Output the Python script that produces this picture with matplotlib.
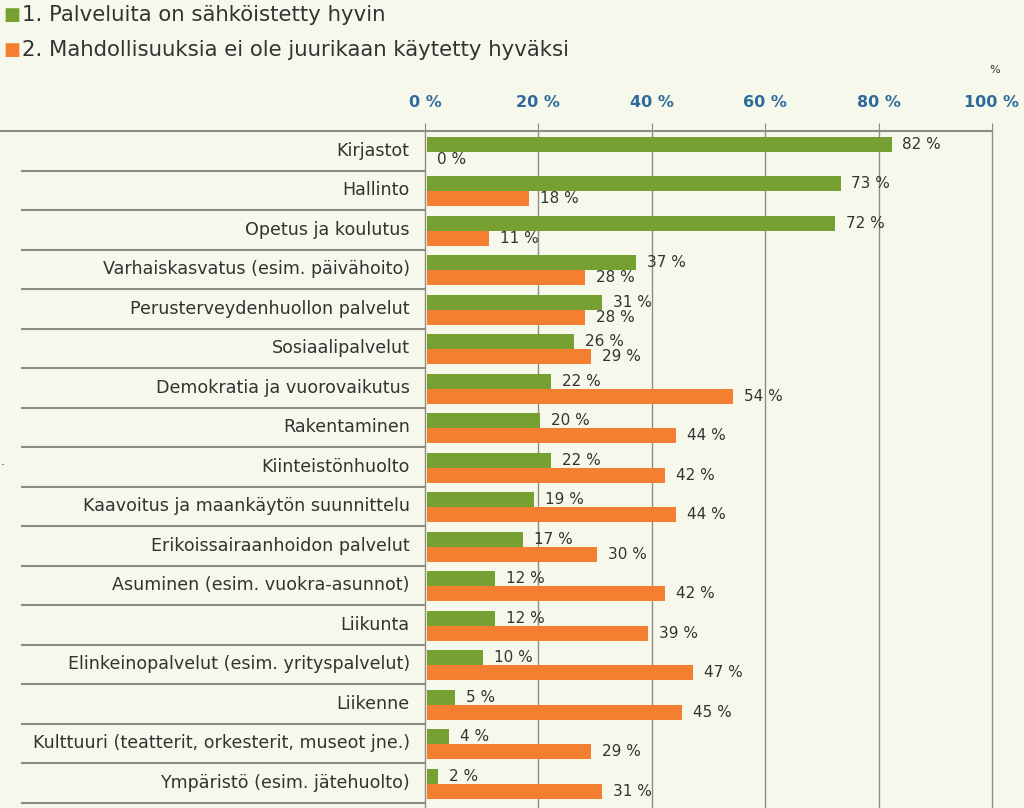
import matplotlib.pyplot as plt

categories = [
    "Kirjastot", "Hallinto", "Opetus ja koulutus",
    "Varhaiskasvatus (esim. päivähoito)", "Perusterveydenhuollon palvelut",
    "Sosiaalipalvelut", "Demokratia ja vuorovaikutus", "Rakentaminen",
    "Kiinteistönhuolto", "Kaavoitus ja maankäytön suunnittelu",
    "Erikoissairaanhoidon palvelut", "Asuminen (esim. vuokra-asunnot)",
    "Liikunta", "Elinkeinopalvelut (esim. yrityspalvelut)", "Liikenne",
    "Kulttuuri (teatterit, orkesterit, museot jne.)",
    "Ympäristö (esim. jätehuolto)",
]
sahkoistetty = [82, 73, 72, 37, 31, 26, 22, 20, 22, 19, 17, 12, 12, 10, 5, 4, 2]
ei_kaytetty = [0, 18, 11, 28, 28, 29, 54, 44, 42, 44, 30, 42, 39, 47, 45, 29, 31]
series_names = ["1. Palveluita on sähköistetty hyvin",
                "2. Mahdollisuuksia ei ole juurikaan käytetty hyväksi"]
xticks = [0, 20, 40, 60, 80, 100]

BG = "#f7f8ec"
GREEN = "#76a032"
ORANGE = "#f47f30"
TXT = "#333333"
LINE = "#8c8c84"

W, H = 1024, 808
fig = plt.figure(figsize=(W / 100, H / 100), dpi=100, facecolor=BG)

x0, x1, ytop = 425, 992, 131
row_h = 39.5
ax = fig.add_axes([x0 / W, 0, (x1 - x0) / W, (H - ytop) / H])
ax.set_facecolor(BG)
n = len(categories)
ax.set_xlim(0, 100)
ax.set_ylim((H - ytop) / row_h, 0)
for s in ax.spines.values():
    s.set_visible(False)
ax.set_yticks([])
ax.xaxis.tick_top()
ax.set_xticks(xticks)
ax.set_xticklabels([f"{v} %" for v in xticks], color="#2e6a9a",
                   fontweight="bold", fontsize=11.5)
ax.tick_params(axis="x", length=6, color=LINE, pad=9)

for v in xticks:
    ax.axvline(v, color=LINE, lw=1, zorder=0, clip_on=False)

px = 100 / (x1 - x0)  # data units per pixel
ax.plot([-x0 * px, 100], [0, 0], color=LINE, lw=1.5, clip_on=False)
for k in range(1, n + 1):
    ax.plot([(22 - x0) * px, 0], [k, k], color=LINE, lw=1.5, clip_on=False)

ys = list(range(n))
g_y = [y + 0.33 for y in ys]
o_y = [y + 0.72 for y in ys]
ax.barh(g_y, sahkoistetty, height=0.38, left=0.3, color=GREEN, zorder=2)
ax.barh(o_y, ei_kaytetty, height=0.38, left=0.3, color=ORANGE, zorder=2)

for y, v in zip(g_y, sahkoistetty):
    ax.text(v + 2.2, y, f"{v} %", va="center", ha="left", fontsize=11,
            color=TXT, zorder=3)
for y, v in zip(o_y, ei_kaytetty):
    ax.text(v + 2.2, y, f"{v} %", va="center", ha="left", fontsize=11,
            color=TXT, zorder=3)

for y, c in zip(ys, categories):
    ax.text(-2.7, y + 0.5, c, va="center", ha="right", fontsize=12.6,
            color=TXT, clip_on=False)

# legend
for i, (name, col) in enumerate(zip(series_names, [GREEN, ORANGE])):
    yy = 1 - (15 + 35 * i) / H
    fig.text(3 / W, yy, "■", color=col, fontsize=13, va="center", ha="left")
    fig.text(22 / W, yy, name, color=TXT, fontsize=15.3, va="center", ha="left")

fig.text(995 / W, 1 - 70 / H, "%", fontsize=8, color=TXT, ha="center", va="center")
fig.text(3 / W, 1 - 462 / H, ".", fontsize=9, color=TXT, ha="center", va="center")

fig.savefig("out.png", dpi=100, facecolor=BG)
